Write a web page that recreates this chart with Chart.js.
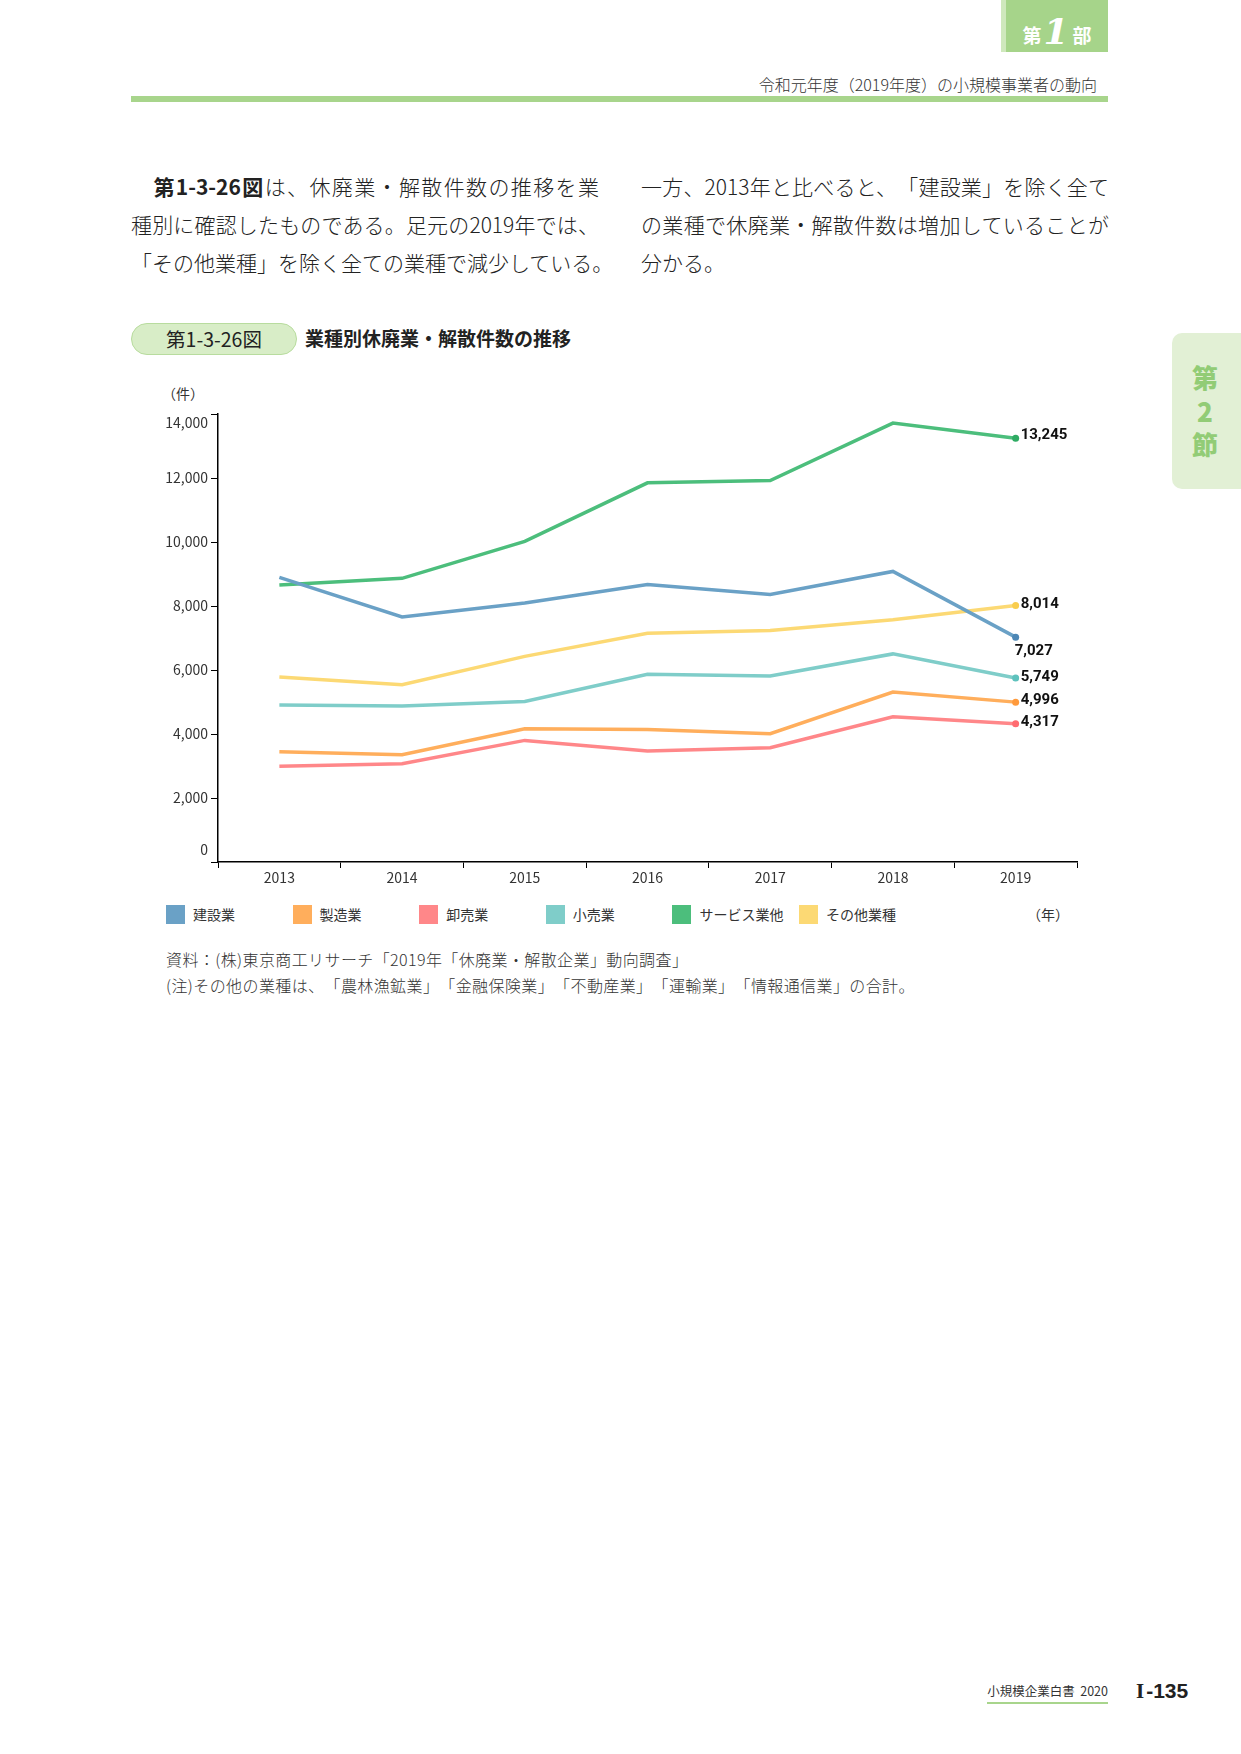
<!DOCTYPE html>
<html lang="ja">
<head>
<meta charset="utf-8">
<title>業種別休廃業・解散件数の推移</title>
<script src="https://cdn.jsdelivr.net/npm/chart.js@4.4.1/dist/chart.umd.min.js"></script>
<style>
  html, body { margin: 0; padding: 0; background: #fff; }
  body { width: 1241px; height: 1754px; position: relative; font-family: 'Noto Sans CJK JP', sans-serif; color: #333; overflow: hidden; text-spacing-trim: space-all; }
  .abs { position: absolute; }
  #bu { left: 1001px; top: 0; width: 107px; height: 52px; background: #a6d48a; border-left: 5px solid #cfe8bd; box-sizing: border-box; color: #fff; font-weight: 700; text-align: center; line-height: 60px; font-size: 19px; }
  #bu i { font-family: 'DejaVu Serif', serif; font-size: 36px; font-weight: 700; margin: 0 4px 0 2px; position: relative; top: 1px; }
  #hd { right: 144px; top: 73px; font-size: 16px; color: #333; line-height: 22px; font-weight: 300; }
  #rule { left: 131px; top: 96px; width: 977px; height: 6px; background: #a8d58c; }
  .col { top: 167px; width: 468px; font-size: 21px; line-height: 38px; color: #222; font-weight: 300; }
  .col div { text-align: justify; text-align-last: justify; white-space: nowrap; }
  .col div.last { text-align-last: left; }
  .col b { font-weight: 700; }
  #pill { left: 131px; top: 323px; width: 164px; height: 30px; border-radius: 16px; background: #d8edc7; border: 1px solid #b8dc9e; text-align: center; line-height: 30px; font-size: 19.5px; color: #222; font-weight: 400; }
  #ttl { left: 305px; top: 325px; font-size: 19px; line-height: 26px; font-weight: 700; color: #222; }
  #tab { left: 1172px; top: 333px; width: 69px; height: 156px; background: #e2f0d5; border-radius: 10px 0 0 10px; }
  #tab span { position: absolute; left: 0; width: 66px; text-align: center; font-size: 26px; font-weight: 900; color: #92cc76; line-height: 30px; }
  #unit { left: 162px; top: 383px; font-size: 14px; line-height: 20px; color: #333; }
  #chartBox { left: 140px; top: 400px; width: 960px; height: 495px; }
  #legend { left: 166px; top: 905px; height: 19px; }
  .lg { position: absolute; top: 0; white-space: nowrap; font-size: 14px; line-height: 19px; color: #333; }
  .lg i { display: inline-block; width: 19px; height: 19px; vertical-align: top; margin-right: 8px; }
  #nen { left: 1027px; top: 904px; font-size: 14px; line-height: 20px; color: #333; }
  .note { left: 166px; font-size: 16px; line-height: 20px; color: #333; font-weight: 300; letter-spacing: 0.4px; white-space: nowrap; }
  #ft1 { right: 133px; top: 1681px; font-size: 12.5px; line-height: 20px; color: #333; border-bottom: 2px solid #a8d58c; padding-bottom: 1px; }
  #ft2 { left: 1136px; top: 1678px; font-size: 21px; line-height: 26px; font-weight: 700; color: #222; font-family: 'Liberation Sans', sans-serif; }
  #ft2 span { font-family: 'Liberation Serif', serif; margin-right: 2px; }
</style>
</head>
<body>
<div id="bu" class="abs">第<i>1</i>部</div>
<div id="hd" class="abs">令和元年度（2019年度）の小規模事業者の動向</div>
<div id="rule" class="abs"></div>

<div class="abs col" style="left:131px;">
  <div>　<b>第1-3-26図</b>は、休廃業・解散件数の推移を業</div>
  <div>種別に確認したものである。足元の2019年では、</div>
  <div class="last">「その他業種」を除く全ての業種で減少している。</div>
</div>
<div class="abs col" style="left:641px;">
  <div>一方、2013年と比べると、「建設業」を除く全て</div>
  <div>の業種で休廃業・解散件数は増加していることが</div>
  <div class="last">分かる。</div>
</div>

<div id="pill" class="abs">第1-3-26図</div>
<div id="ttl" class="abs">業種別休廃業・解散件数の推移</div>

<div id="tab" class="abs">
  <span style="top:29px;">第</span>
  <span style="top:63px;">2</span>
  <span style="top:96px;">節</span>
</div>

<div id="unit" class="abs">（件）</div>
<div id="chartBox" class="abs"><canvas id="myChart"></canvas></div>
<div id="legend" class="abs"></div>
<div id="nen" class="abs">（年）</div>

<div class="abs note" style="top:949px;">資料：(株)東京商工リサーチ「2019年「休廃業・解散企業」動向調査」</div>
<div class="abs note" style="top:975px;">(注)その他の業種は、「農林漁鉱業」「金融保険業」「不動産業」「運輸業」「情報通信業」の合計。</div>

<div id="ft1" class="abs">小規模企業白書&nbsp;&nbsp;2020</div>
<div id="ft2" class="abs"><span>I</span>-135</div>

<script>
// 年
const years = ['2013', '2014', '2015', '2016', '2017', '2018', '2019'];

// 業種別 休廃業・解散件数（件）
const kensetsu = [8896, 7656, 8094, 8674, 8361, 9081, 7027];
const seizo    = [3448, 3354, 4166, 4144, 4008, 5313, 4996];
const oroshi   = [2990, 3073, 3800, 3466, 3570, 4541, 4317];
const kouri    = [4906, 4875, 5019, 5866, 5814, 6503, 5749];
const service  = [8656, 8865, 10019, 11848, 11921, 13716, 13245];
const sonota   = [5781, 5542, 6425, 7150, 7234, 7568, 8014];

const yTicks = [0, 2000, 4000, 6000, 8000, 10000, 12000, 14000];

Chart.defaults.font.family = "'Noto Sans CJK JP', sans-serif";
Chart.defaults.color = '#333';

function serie(label, values, color, pointColor, labelDx, labelDy) {
    return {
        label: label,
        data: values,
        borderColor: color,
        backgroundColor: color,
        borderWidth: 3.5,
        tension: 0,
        pointRadius: ctx => ctx.dataIndex === values.length - 1 ? 3.5 : 0,
        pointHoverRadius: 0,
        pointBackgroundColor: pointColor,
        pointBorderWidth: 0,
        labelDx: labelDx,
        labelDy: labelDy
    };
}

// etiqueta amb el valor de 2019 al final de cada línia
const ultimValor = {
    id: 'ultimValor',
    afterDatasetsDraw(chart) {
        const ctx = chart.ctx;
        ctx.save();
        ctx.font = "bold 15px Roboto, 'Noto Sans CJK JP', sans-serif";
        ctx.fillStyle = '#111';
        ctx.textBaseline = 'middle';
        ctx.textAlign = 'left';
        chart.data.datasets.forEach((ds, i) => {
            const meta = chart.getDatasetMeta(i);
            const last = meta.data.length - 1;
            const pt = meta.data[last];
            ctx.fillText(ds.data[last].toLocaleString('en-US'), pt.x + ds.labelDx, pt.y + ds.labelDy);
        });
        ctx.restore();
    }
};

// etiquetes de l'eix Y: la primera i l'última cap a dins, com a l'original
const etiquetesY = {
    id: 'etiquetesY',
    afterDraw(chart) {
        const s = chart.scales.y;
        const ctx = chart.ctx;
        ctx.save();
        ctx.font = "14px 'Noto Sans CJK JP', sans-serif";
        ctx.fillStyle = '#333';
        ctx.textAlign = 'right';
        ctx.textBaseline = 'middle';
        yTicks.forEach(v => {
            let y = s.getPixelForValue(v);
            if (v === s.max) y += 9;
            if (v === s.min) y -= 12;
            ctx.fillText(v.toLocaleString('en-US'), s.right - 10, y);
        });
        ctx.restore();
    }
};

const ctx = document.getElementById('myChart').getContext('2d');
const myChart = new Chart(ctx, {
    type: 'line',
    data: {
        labels: years,
        datasets: [
            serie('建設業', kensetsu, '#6aa1c6', '#4d87b5', -1, 14),
            serie('製造業', seizo, '#ffae5c', '#ff9a3c', 5, -2),
            serie('卸売業', oroshi, '#ff8789', '#ff6b70', 5, -2),
            serie('小売業', kouri, '#7fcdc9', '#5ec2bd', 5, -1),
            serie('サービス業他', service, '#4cbe7c', '#2fab63', 5, -3),
            serie('その他業種', sonota, '#fcd974', '#f9cd4e', 5, -1)
        ]
    },
    options: {
        responsive: true,
        maintainAspectRatio: false,
        animation: false,
        events: [],
        layout: { padding: { top: 14, right: 23, left: 0, bottom: 0 } },
        plugins: {
            legend: { display: false },
            tooltip: { enabled: false },
            title: { display: false }
        },
        scales: {
            x: {
                type: 'category',
                offset: true,
                afterFit: s => { s.height = 33; },
                grid: { display: true, drawOnChartArea: false, drawTicks: true, tickLength: 6, color: '#000', offset: true },
                border: { display: true, color: '#000', width: 1.5 },
                ticks: { padding: 1, color: '#333', font: { size: 14 } }
            },
            y: {
                min: 0,
                max: 14000,
                afterFit: s => { s.width = 78; },
                afterBuildTicks: s => { s.ticks = yTicks.map(v => ({ value: v })); },
                grid: { display: true, drawOnChartArea: false, drawTicks: true, tickLength: 7, color: '#000' },
                border: { display: true, color: '#000', width: 1.5 },
                ticks: { display: false }
            }
        }
    },
    plugins: [ultimValor, etiquetesY]
});

// llegenda feta a mà a partir dels datasets
const legend = document.getElementById('legend');
myChart.data.datasets.forEach((ds, i) => {
    const item = document.createElement('div');
    item.className = 'lg';
    item.style.left = (i * 126.6) + 'px';
    item.innerHTML = '<i style="background:' + ds.borderColor + '"></i>' + ds.label;
    legend.appendChild(item);
});
</script>
</body>
</html>
